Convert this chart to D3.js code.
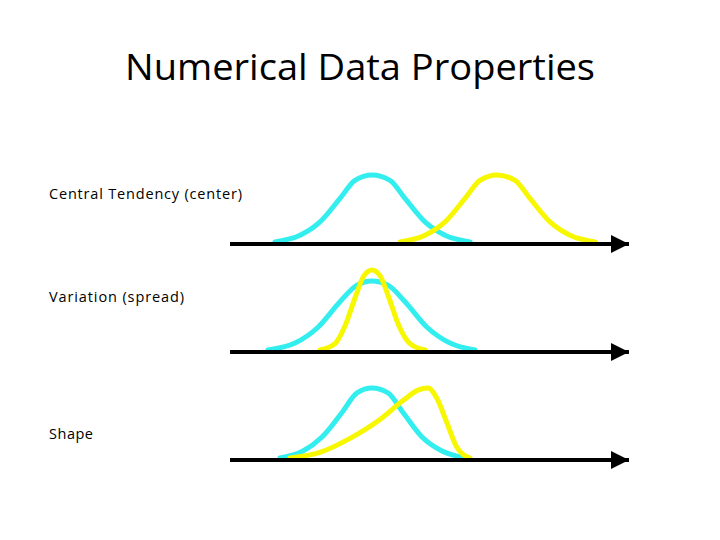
<!DOCTYPE html>
<html><head><meta charset="utf-8">
<script src="https://cdn.jsdelivr.net/npm/d3@7"></script>
<style>body{margin:0;background:#fff}</style></head>
<body><svg id="c" width="720" height="540"></svg>
<script>
const title = "Numerical Data Properties";
const rowLabels = ["Central Tendency (center)", "Variation (spread)", "Shape"];
// curve points: [x position, relative height]
const row1Cyan = [[275,0],[300,0.1],[320,0.3],[340,0.65],[355,0.92],[372,1],[390,0.92],[405,0.65],[425,0.3],[445,0.1],[470,0]];
const row1Yellow = [[400,0],[425,0.1],[445,0.3],[465,0.65],[480,0.92],[497,1],[515,0.92],[530,0.65],[550,0.3],[570,0.1],[595,0]];
const row2Cyan = [[268,0],[295,0.1],[318,0.33],[340,0.7],[357,0.94],[372,1],[388,0.94],[405,0.7],[427,0.33],[450,0.1],[475,0]];
const row2Yellow = [[320,0],[335,0.08],[345,0.3],[355,0.65],[364,0.93],[372,1],[380,0.93],[389,0.65],[399,0.3],[410,0.08],[425,0]];
const row3Cyan = [[280,0],[303,0.1],[322,0.3],[342,0.65],[357,0.93],[372,1],[388,0.93],[403,0.65],[422,0.3],[442,0.1],[465,0]];
const row3Yellow = [[290,0],[320,0.08],[350,0.28],[380,0.55],[403,0.82],[418,0.97],[428,1],[437,0.85],[447,0.5],[457,0.15],[470,0]];
const rows = [
  {label: rowLabels[0], base: 244, curves: [{pts: row1Cyan, h: 67, c: "#33EEEE"}, {pts: row1Yellow, h: 67, c: "#F7F700"}]},
  {label: rowLabels[1], base: 352, curves: [{pts: row2Cyan, h: 69, c: "#33EEEE"}, {pts: row2Yellow, h: 80, c: "#F7F700"}]},
  {label: rowLabels[2], base: 460, curves: [{pts: row3Cyan, h: 70, c: "#33EEEE"}, {pts: row3Yellow, h: 70, c: "#F7F700"}]}
];
const labelY = [194, 297, 434];
const labelW = [193, 135, 44];
const svg = d3.select("#c");
const x = d3.scaleLinear().domain([0, 720]).range([0, 720]);
svg.append("text").attr("x", 125).attr("y", 80)
  .attr("textLength", 470).attr("lengthAdjust", "spacingAndGlyphs")
  .attr("font-family", "Open Sans, sans-serif").attr("font-size", 37).text(title);
svg.append("defs").append("marker").attr("id", "arr").attr("viewBox", "0 0 10 10")
  .attr("refX", 10).attr("refY", 5).attr("markerWidth", 18).attr("markerHeight", 18)
  .attr("markerUnits", "userSpaceOnUse").attr("orient", "auto")
  .append("path").attr("d", "M0,0L10,5L0,10Z").attr("fill", "#000");
rows.forEach((r, i) => {
  svg.append("text").attr("x", 49).attr("y", labelY[i]).attr("dy", "0.35em")
    .attr("textLength", labelW[i]).attr("lengthAdjust", "spacing")
    .attr("font-family", "Open Sans, sans-serif").attr("font-size", 14.5).text(r.label);
  r.curves.forEach(cv => {
    const y = d3.scaleLinear().domain([0, 1]).range([r.base - 2, r.base - 2 - cv.h]);
    const line = d3.line().x(d => x(d[0])).y(d => y(d[1])).curve(d3.curveMonotoneX);
    svg.append("path").attr("d", line(cv.pts)).attr("fill", "none")
      .attr("stroke", cv.c).attr("stroke-width", 5).attr("stroke-linecap", "round");
  });
  svg.append("line").attr("x1", x(230)).attr("x2", x(629)).attr("y1", r.base).attr("y2", r.base)
    .attr("stroke", "#000").attr("stroke-width", 4).attr("marker-end", "url(#arr)");
});
</script></body></html>
